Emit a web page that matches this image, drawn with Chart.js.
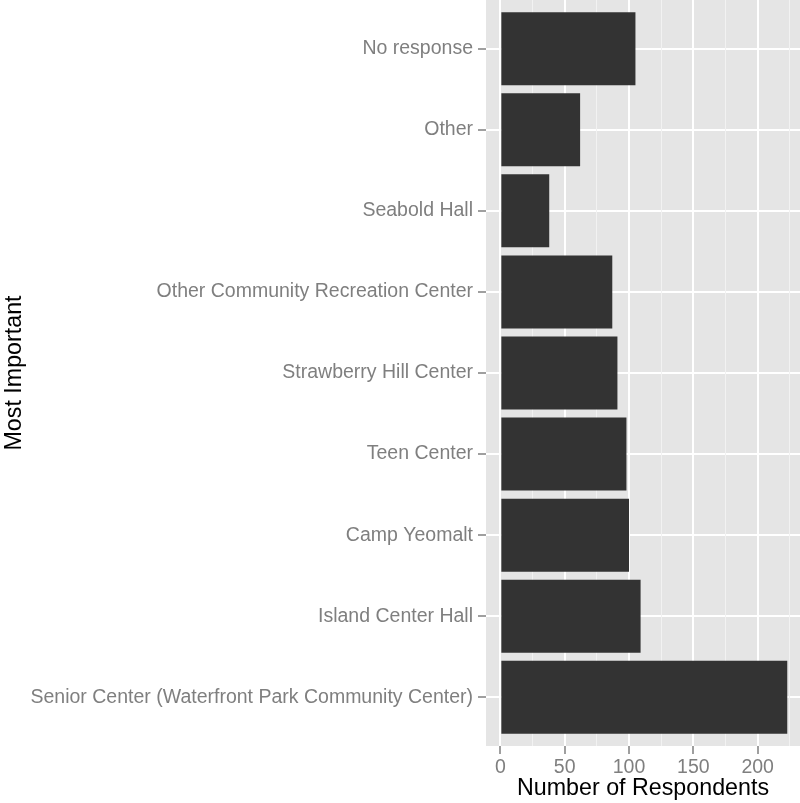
<!DOCTYPE html>
<html>
<head>
<meta charset="utf-8">
<script src="https://cdn.jsdelivr.net/npm/chart.js@4/dist/chart.umd.min.js"></script>
<style>
html,body{margin:0;padding:0;background:#fff;}
#wrap{width:800px;height:803px;}
</style>
</head>
<body>
<div id="wrap"><canvas id="c" width="800" height="803"></canvas></div>
<script>
// Categories from top to bottom as shown
const categories = [
  "No response",
  "Other",
  "Seabold Hall",
  "Other Community Recreation Center",
  "Strawberry Hill Center",
  "Teen Center",
  "Camp Yeomalt",
  "Island Center Hall",
  "Senior Center (Waterfront Park Community Center)"
];
const respondents = [105, 62, 38, 87, 91, 98, 100, 109, 223];
const xTickValues = [0, 25, 50, 75, 100, 125, 150, 175, 200, 225];
const xTickLabels = ["0", "", "50", "", "100", "", "150", "", "200", ""];

const n = categories.length;
// position of category i (top = highest)
const positions = categories.map((c, i) => n - i);

const FONT = "'Liberation Sans', Arial, Helvetica, sans-serif";
const GREY = '#7F7F7F';

const panelBg = {
  id: 'panelBg',
  beforeDraw(chart) {
    const a = chart.chartArea, ctx = chart.ctx;
    ctx.save();
    ctx.fillStyle = '#E5E5E5';
    ctx.fillRect(a.left, a.top, a.right - a.left, a.bottom - a.top);
    ctx.restore();
  }
};

new Chart(document.getElementById('c'), {
  type: 'bar',
  data: {
    datasets: [{
      data: respondents.map((v, i) => ({ x: v, y: positions[i] })),
      backgroundColor: '#333333',
      borderWidth: 0,
      barPercentage: 0.9,
      categoryPercentage: 1.0
    }]
  },
  options: {
    indexAxis: 'y',
    responsive: false,
    animation: false,
    devicePixelRatio: 1,
    layout: { padding: 0 },
    plugins: { legend: { display: false }, tooltip: { enabled: false } },
    scales: {
      y: {
        type: 'linear',
        position: 'left',
        offset: false,
        min: 0.4,
        max: 9.6,
        afterBuildTicks(scale) {
          scale.ticks = positions.slice().reverse().map(v => ({ value: v }));
        },
        afterFit(scale) {
          scale.width = 486;
          scale.paddingTop = 0;
          scale.paddingBottom = 0;
        },
        border: { display: false },
        grid: {
          offset: false,
          color: '#FFFFFF',
          lineWidth: 2,
          tickColor: GREY,
          tickLength: 8,
          tickWidth: 1.5
        },
        ticks: {
          autoSkip: false,
          padding: 5,
          color: GREY,
          font: { family: FONT, size: 19.5 },
          callback(value) {
            const idx = positions.indexOf(value);
            return idx >= 0 ? categories[idx] : '';
          }
        },
        title: {
          display: true,
          text: 'Most Important',
          color: '#000000',
          font: { family: FONT, size: 23.25 },
          padding: { top: 1, bottom: 0 }
        }
      },
      x: {
        type: 'linear',
        position: 'bottom',
        offset: false,
        min: -11.15,
        max: 232.9,
        afterBuildTicks(scale) {
          scale.ticks = xTickValues.map(v => ({ value: v }));
        },
        afterFit(scale) {
          scale.height = 57;
          scale.paddingLeft = 0;
          scale.paddingRight = 0;
        },
        border: { display: false },
        grid: {
          offset: false,
          color: ctx => (ctx.tick && ctx.tick.value % 50 === 0) ? '#FFFFFF' : '#F2F2F2',
          lineWidth: ctx => (ctx.tick && ctx.tick.value % 50 === 0) ? 2 : 1,
          tickColor: ctx => (ctx.tick && ctx.tick.value % 50 === 0) ? GREY : 'rgba(0,0,0,0)',
          tickLength: 8,
          tickWidth: 1.5
        },
        ticks: {
          autoSkip: false,
          maxRotation: 0,
          minRotation: 0,
          padding: 2,
          color: GREY,
          font: { family: FONT, size: 19.5 },
          callback(value) {
            const idx = xTickValues.indexOf(value);
            return idx >= 0 ? xTickLabels[idx] : '';
          }
        },
        title: {
          display: true,
          text: 'Number of Respondents',
          color: '#000000',
          font: { family: FONT, size: 23.25 },
          padding: { top: 0, bottom: 0 }
        }
      }
    }
  },
  plugins: [panelBg]
});
</script>
</body>
</html>
